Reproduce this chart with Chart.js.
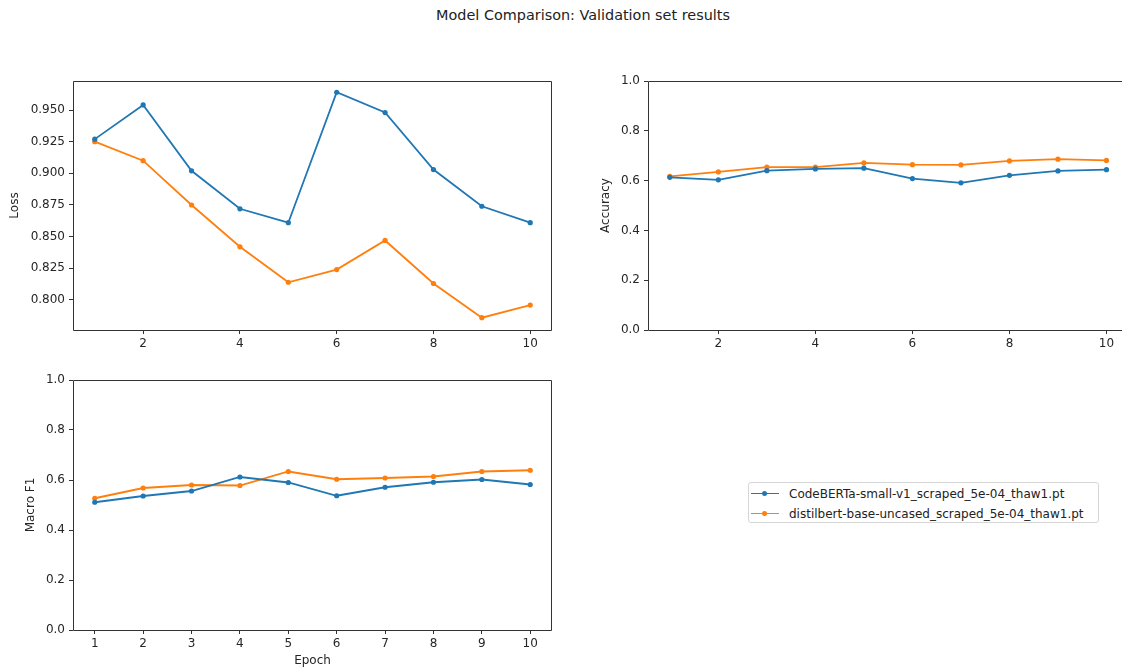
<!DOCTYPE html>
<html>
<head>
<meta charset="utf-8">
<script src="https://cdn.jsdelivr.net/npm/chart.js@4.4.0/dist/chart.umd.min.js"></script>
<style>
  html, body { margin: 0; padding: 0; background: #fff; overflow: hidden; }
  body { width: 1122px; height: 671px; position: relative; font-family: "DejaVu Sans", sans-serif; color: #222; }
  .box { position: absolute; }
  #titulo { position: absolute; top: 7px; left: 383px; width: 400px; text-align: center; font-size: 14.4px; }
  #legenda { position: absolute; left: 748px; top: 482px; width: 349px; height: 39px;
    border: 1px solid #d6d6d6; border-radius: 3px; font-size: 12px; }
  .item { position: absolute; left: 2px; height: 20px; line-height: 20px; white-space: nowrap; }
  .amostra { position: absolute; left: 0; top: 9px; width: 28px; height: 0; border-top: 1.8px solid; }
  .ponto { position: absolute; left: 11px; top: -3.4px; width: 5px; height: 5px; border-radius: 50%; }
  .texto { position: absolute; left: 38px; top: 0; }
</style>
</head>
<body>
<div id="titulo">Model Comparison: Validation set results</div>
<div class="box" style="left:0;top:60px;width:560px;height:300px"><canvas id="lossChart"></canvas></div>
<div class="box" style="left:575px;top:60px;width:547px;height:300px"><canvas id="accChart"></canvas></div>
<div class="box" style="left:0;top:360px;width:560px;height:311px"><canvas id="f1Chart"></canvas></div>
<div id="legenda"></div>
<script>
// Dados
const epocas = [1, 2, 3, 4, 5, 6, 7, 8, 9, 10];
const modelos = ['CodeBERTa-small-v1_scraped_5e-04_thaw1.pt', 'distilbert-base-uncased_scraped_5e-04_thaw1.pt'];
const cores = ['#1f77b4', '#ff7f0e'];

const lossCodeberta = [0.927, 0.954, 0.902, 0.872, 0.861, 0.964, 0.948, 0.903, 0.874, 0.861];
const lossDistilbert = [0.925, 0.910, 0.875, 0.842, 0.814, 0.824, 0.847, 0.813, 0.786, 0.796];
const accCodeberta = [0.613, 0.603, 0.640, 0.647, 0.650, 0.608, 0.591, 0.621, 0.639, 0.644];
const accDistilbert = [0.617, 0.635, 0.654, 0.654, 0.671, 0.664, 0.663, 0.679, 0.686, 0.681];
const f1Codeberta = [0.511, 0.536, 0.556, 0.612, 0.590, 0.537, 0.571, 0.591, 0.602, 0.582];
const f1Distilbert = [0.527, 0.568, 0.580, 0.578, 0.634, 0.603, 0.608, 0.614, 0.634, 0.639];

const ticksXPar = [2, 4, 6, 8, 10];
const ticksXTodos = [1, 2, 3, 4, 5, 6, 7, 8, 9, 10];
const ticksLoss = [0.800, 0.825, 0.850, 0.875, 0.900, 0.925, 0.950];
const ticksFracao = [0.0, 0.2, 0.4, 0.6, 0.8, 1.0];

const corTexto = '#262626';
const corEixo = '#333333';
const fonte = { family: 'DejaVu Sans', size: 12 };

// Moldura em volta da área do gráfico (no painel da direita a borda direita fica fora da figura)
const moldura = {
  id: 'moldura',
  afterDraw(chart, args, opts) {
    const { ctx, chartArea: a } = chart;
    const l = Math.round(a.left) + 0.5, t = Math.round(a.top) + 0.5;
    const r = Math.round(a.right) - 0.5, b = Math.round(a.bottom) + 0.5;
    ctx.save();
    ctx.strokeStyle = corEixo;
    ctx.lineWidth = 1;
    ctx.beginPath();
    if (opts.semDireita) {
      ctx.moveTo(chart.width, t); ctx.lineTo(l, t); ctx.lineTo(l, b); ctx.lineTo(chart.width, b);
    } else {
      ctx.rect(l, t, r - l, b - t);
    }
    ctx.stroke();
    ctx.restore();
  }
};

function serie(valores, i) {
  return {
    label: modelos[i],
    data: epocas.map((e, k) => ({ x: e, y: valores[k] })),
    borderColor: cores[i],
    backgroundColor: cores[i],
    borderWidth: 1.8,
    pointRadius: 2.6,
    pointBorderWidth: 0,
    tension: 0,
    clip: false
  };
}

function criarGrafico(id, series, opc) {
  return new Chart(document.getElementById(id), {
    type: 'line',
    data: { datasets: series },
    options: {
      responsive: true,
      maintainAspectRatio: false,
      animation: false,
      events: [],
      layout: { autoPadding: false, padding: { top: opc.topo, right: opc.direita, left: 0, bottom: 0 } },
      plugins: {
        legend: { display: false },
        tooltip: { enabled: false },
        moldura: { semDireita: !!opc.semDireita }
      },
      scales: {
        x: {
          type: 'linear',
          min: 0.55,
          max: opc.xMax,
          afterFit(s) { s.height = opc.alturaX; s.paddingLeft = 0; s.paddingRight = 0; },
          afterBuildTicks(s) { s.ticks = opc.ticksX.map(v => ({ value: v })); },
          grid: { drawOnChartArea: false, drawTicks: true, tickLength: 4, color: corEixo, tickColor: corEixo },
          border: { display: false },
          ticks: { color: corTexto, font: fonte, padding: 3, maxRotation: 0, autoSkip: false,
            callback: v => String(v) },
          title: opc.tituloX
            ? { display: true, text: opc.tituloX, color: corTexto, font: fonte, padding: { top: 0, bottom: 3 } }
            : { display: false }
        },
        y: {
          type: 'linear',
          min: opc.yMin,
          max: opc.yMax,
          afterFit(s) { s.width = 73; s.paddingTop = 0; s.paddingBottom = 0; },
          afterBuildTicks(s) { s.ticks = opc.ticksY.map(v => ({ value: v })); },
          grid: { drawOnChartArea: false, drawTicks: true, tickLength: 4, color: corEixo, tickColor: corEixo },
          border: { display: false },
          ticks: { color: corTexto, font: fonte, padding: 4, autoSkip: false,
            callback: v => v.toFixed(opc.casas) },
          title: { display: true, text: opc.tituloY, color: corTexto, font: fonte,
            padding: { top: opc.padTituloY, bottom: 0 } }
        }
      }
    },
    plugins: [moldura]
  });
}

criarGrafico('lossChart', [serie(lossCodeberta, 0), serie(lossDistilbert, 1)], {
  topo: 21, direita: 8, alturaX: 30, ticksX: ticksXPar, xMax: 10.45,
  yMin: 0.7763, yMax: 0.9729, ticksY: ticksLoss, casas: 3,
  tituloY: 'Loss', padTituloY: 8
});

// Painel da direita: a figura original corta a borda direita deste eixo
criarGrafico('accChart', [serie(accCodeberta, 0), serie(accDistilbert, 1)], {
  topo: 21, direita: 0, alturaX: 30, ticksX: ticksXPar, xMax: 10.32, semDireita: true,
  yMin: 0, yMax: 1, ticksY: ticksFracao, casas: 1,
  tituloY: 'Accuracy', padTituloY: 24
});

criarGrafico('f1Chart', [serie(f1Codeberta, 0), serie(f1Distilbert, 1)], {
  topo: 20, direita: 8, alturaX: 41, ticksX: ticksXTodos, xMax: 10.45,
  yMin: 0, yMax: 1, ticksY: ticksFracao, casas: 1,
  tituloY: 'Macro F1', padTituloY: 24, tituloX: 'Epoch'
});

// Legenda
const legenda = document.getElementById('legenda');
modelos.forEach((nome, i) => {
  const item = document.createElement('div');
  item.className = 'item';
  item.style.top = (1 + i * 20) + 'px';
  item.innerHTML = '<span class="amostra" style="border-color:' + cores[i] + '">' +
    '<span class="ponto" style="background:' + cores[i] + '"></span></span>' +
    '<span class="texto"></span>';
  item.querySelector('.texto').textContent = nome;
  legenda.appendChild(item);
});
</script>
</body>
</html>
